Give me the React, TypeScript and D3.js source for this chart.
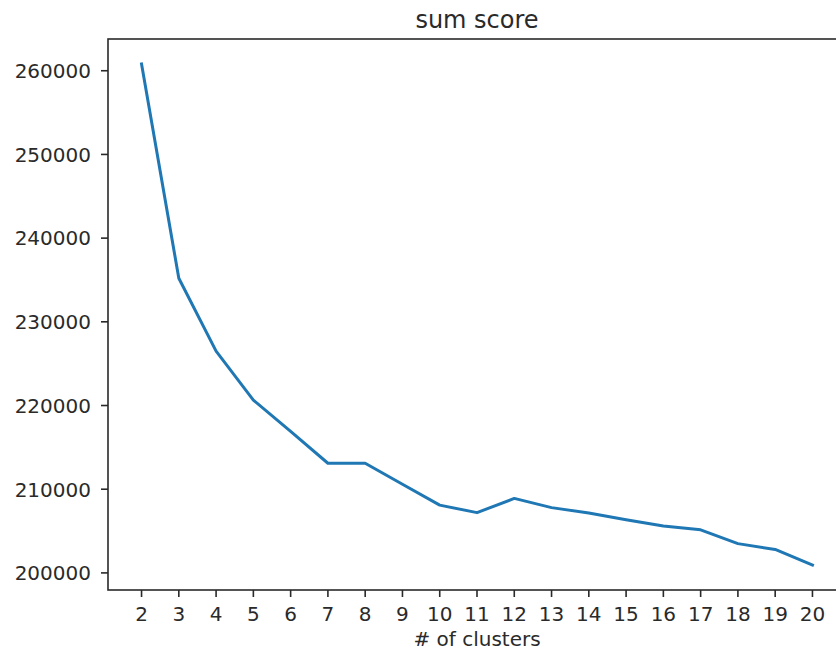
import React from "react";
import * as d3 from "d3";

const clusters = [2, 3, 4, 5, 6, 7, 8, 9, 10, 11, 12, 13, 14, 15, 16, 17, 18, 19, 20];
const scores = [260800, 235200, 226500, 220650, 216900, 213100, 213100, 210600, 208100, 207200, 208900, 207800, 207150, 206350, 205600, 205150, 203500, 202800, 200950];
const yTicks = [200000, 210000, 220000, 230000, 240000, 250000, 260000];
const title = "sum score";
const xLabel = "# of clusters";

export default function App() {
  const W = 836, H = 650;
  const left = 108, right = 846, top = 39, bottom = 590;
  const xMin = d3.min(clusters)!, xMax = d3.max(clusters)!;
  const xPad = (xMax - xMin) * 0.05;
  const yMin = d3.min(scores)!, yMax = d3.max(scores)!;
  const yPad = (yMax - yMin) * 0.05;
  const x = d3.scaleLinear().domain([xMin - xPad, xMax + xPad]).range([left, right]);
  const y = d3.scaleLinear().domain([yMin - yPad, yMax + yPad]).range([bottom, top]);
  const line = d3.line<number>().x((_, i) => x(clusters[i])).y((d) => y(d));
  const font = "'DejaVu Sans', sans-serif";
  const ink = "#2a2a2a";
  return (
    <svg width={W} height={H} style={{ position: "absolute", left: 0, top: 0, background: "#fff" }} fontFamily={font}>
      <rect x={0} y={0} width={W} height={H} fill="#fff" />
      <path d={line(scores) || ""} fill="none" stroke="#1f77b4" strokeWidth={3} strokeLinejoin="round" strokeLinecap="square" />
      <rect x={left} y={top} width={right - left} height={bottom - top} fill="none" stroke={ink} strokeWidth={1.6} />
      {clusters.map((c) => (
        <g key={c}>
          <line x1={x(c)} x2={x(c)} y1={bottom} y2={bottom + 7} stroke={ink} strokeWidth={1.6} />
          <text x={x(c)} y={621} fontSize={20} textAnchor="middle" fill={ink}>{c}</text>
        </g>
      ))}
      {yTicks.map((t) => (
        <g key={t}>
          <line x1={left - 7} x2={left} y1={y(t)} y2={y(t)} stroke={ink} strokeWidth={1.6} />
          <text x={91} y={y(t) + 7.3} fontSize={20} textAnchor="end" fill={ink}>{t}</text>
        </g>
      ))}
      <text x={(left + right) / 2} y={28} fontSize={24} textAnchor="middle" fill={ink}>{title}</text>
      <text x={(left + right) / 2} y={646} fontSize={20} textAnchor="middle" fill={ink}>{xLabel}</text>
    </svg>
  );
}
